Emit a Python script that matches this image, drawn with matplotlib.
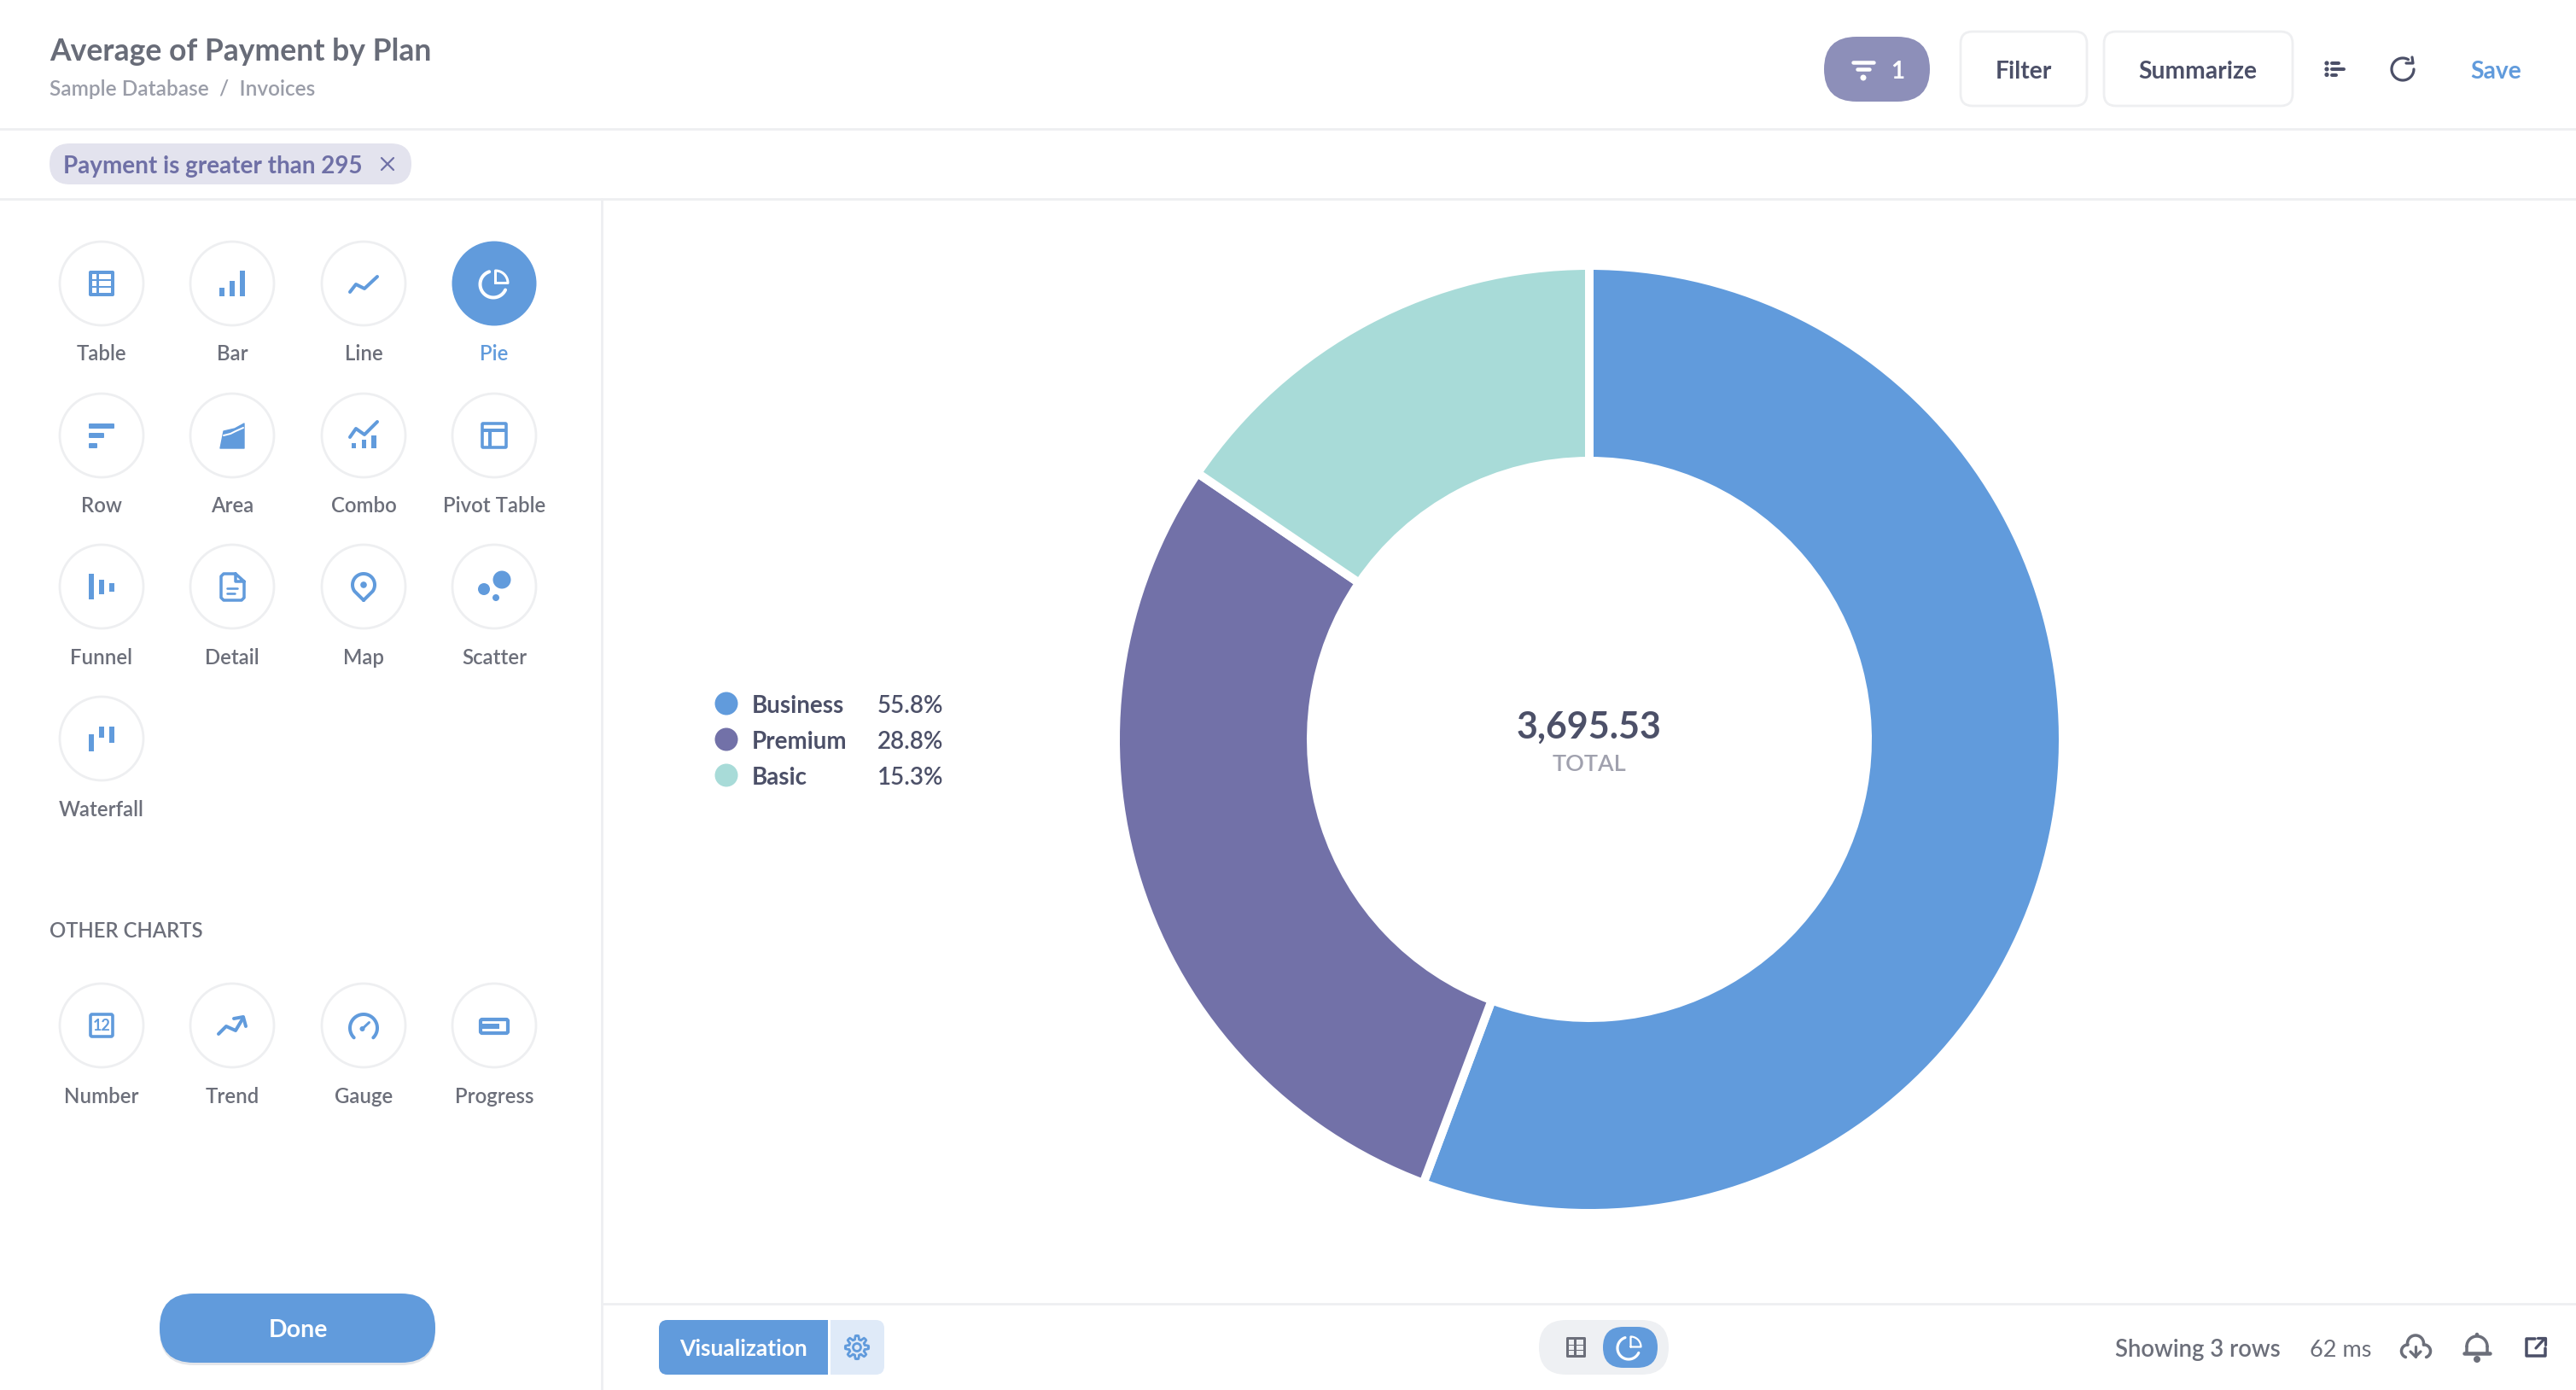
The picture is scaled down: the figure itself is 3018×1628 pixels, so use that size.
import numpy as np
import matplotlib
matplotlib.use('Agg')
import matplotlib.pyplot as plt
from matplotlib.patches import Circle, FancyBboxPatch, Polygon, Rectangle

plt.rcParams['font.family'] = ['Lato', 'DejaVu Sans']

# data
plans = ['Business', 'Premium', 'Basic']
slices = [55.7, 28.8, 15.5]  # as measured on the donut
share_labels = ['55.8%', '28.8%', '15.3%']
total_label = '3,695.53'
chart_types = ['Table', 'Bar', 'Line', 'Pie', 'Row', 'Area', 'Combo', 'Pivot Table',
               'Funnel', 'Detail', 'Map', 'Scatter', 'Waterfall']
other_types = ['Number', 'Trend', 'Gauge', 'Progress']

BLUE = '#619bdc'
PURPLE = '#7271a8'
TEAL = '#a8dbd8'
GREY = '#6c6f7a'
DARK = '#4c5068'
LINE = '#eeeff1'
pie_colors = [BLUE, PURPLE, TEAL]

W, H = 3018, 1628
fig = plt.figure(figsize=(W / 100, H / 100), dpi=100, facecolor='white')
ax = fig.add_axes([0, 0, 1, 1])
ax.set_xlim(0, W)
ax.set_ylim(H, 0)
ax.axis('off')


def box(x0, y0, x1, y1, r, fc, ec='none', lw=0, z=2):
    ax.add_patch(FancyBboxPatch((x0, y0), x1 - x0, y1 - y0, boxstyle=f'round,pad=0,rounding_size={r}',
                                fc=fc, ec=ec, lw=lw, zorder=z))


def rect(x0, y0, x1, y1, fc, z=4):
    ax.add_patch(Rectangle((x0, y0), x1 - x0, y1 - y0, fc=fc, ec='none', zorder=z))


def line(pts, c=BLUE, lw=4, z=4):
    pts = np.array(pts, dtype=float)
    ax.plot(pts[:, 0], pts[:, 1], color=c, lw=lw * 0.72, zorder=z, solid_capstyle='round', solid_joinstyle='round')


def arc_pts(cx, cy, r, a0, a1):
    t = np.radians(np.linspace(a0, a1, 60))
    return np.column_stack([cx + r * np.cos(t), cy - r * np.sin(t)])


def arc(cx, cy, r, a0, a1, c=BLUE, lw=4, z=4):
    line(arc_pts(cx, cy, r, a0, a1), c, lw, z)


def dot(cx, cy, r, c=BLUE, z=4):
    ax.add_patch(Circle((cx, cy), r, fc=c, ec='none', zorder=z))


def txt(x, y, s, size, c=GREY, weight='semibold', ha='left'):
    ax.text(x, y, s, fontsize=size, color=c, fontweight=weight, ha=ha, va='baseline', zorder=6)


def pie_glyph(x, y, r, lw, z=5):
    # open ring, with the quarter wedge pulled out to the upper right
    arc(x - 1, y + 1, r, 108, 335, 'white', lw, z)
    ax_, ay_ = x + 1.5, y - 0.5
    wedge = np.vstack([[(ax_, ay_)], arc_pts(ax_, ay_, r - 1, 0, 90), [(ax_, ay_)]])
    line(wedge, 'white', lw - 1, z)


# icons, all drawn around the circle centre
def icon_table(x, y):
    box(x - 15, y - 15, x + 15, y + 15, 2, BLUE, z=4)
    for a, b in [(-11, -5), (-3, 3), (5, 11)]:
        rect(x - 11, y + a, x - 6, y + b, 'white', 5)
        rect(x - 3, y + a, x + 11, y + b, 'white', 5)


def icon_bar(x, y):
    rect(x - 15, y + 5, x - 9, y + 15, BLUE)
    rect(x - 3, y - 3, x + 3, y + 15, BLUE)
    rect(x + 9, y - 15, x + 15, y + 15, BLUE)


def icon_line(x, y):
    line([(x - 16, y + 10), (x - 9, y + 1), (x + 1, y + 6), (x + 16, y - 8)])


def icon_pie(x, y):
    pie_glyph(x, y, 15.5, 4)


def icon_row(x, y):
    box(x - 15, y - 14, x + 15, y - 8, 1, BLUE, z=4)
    box(x - 15, y - 3, x + 3, y + 3, 1, BLUE, z=4)
    box(x - 15, y + 9, x - 5, y + 15, 1, BLUE, z=4)


def icon_area(x, y):
    ax.add_patch(Polygon([(x - 14, y + 15), (x - 10, y - 5), (x + 3, y - 8), (x + 14, y - 14), (x + 14, y + 15)],
                         fc=BLUE, ec=BLUE, lw=1, joinstyle='round', zorder=4))
    line([(x - 10, y), (x - 2, y - 2), (x + 4, y - 5), (x + 13, y - 9)], 'white', 2, 5)


def icon_combo(x, y):
    line([(x - 16, y + 2), (x - 9, y - 8), (x + 1, y - 1), (x + 16, y - 16)])
    rect(x - 14, y + 9, x - 9, y + 15, BLUE)
    rect(x - 2, y + 5, x + 3, y + 15, BLUE)
    rect(x + 9, y, x + 15, y + 15, BLUE)


def icon_pivot(x, y):
    box(x - 14, y - 14, x + 14, y + 14, 1, 'white', BLUE, 2.6, z=4)
    rect(x - 14, y - 8, x + 14, y - 4, BLUE, 5)
    rect(x - 7, y - 6, x - 3, y + 14, BLUE, 5)


def icon_funnel(x, y):
    rect(x - 15, y - 15, x - 9, y + 15, BLUE)
    rect(x - 3, y - 8, x + 3, y + 9, BLUE)
    rect(x + 9, y - 4, x + 15, y + 6, BLUE)


def icon_detail(x, y):
    line([(x + 4, y - 15), (x - 10, y - 15), (x - 13, y - 12), (x - 13, y + 13), (x - 10, y + 16), (x + 11, y + 16),
          (x + 14, y + 13), (x + 14, y - 6), (x + 4, y - 15), (x + 4, y - 6), (x + 14, y - 6)], lw=3.5)
    line([(x - 6, y + 2), (x + 6, y + 2)], lw=2.6)
    line([(x - 6, y + 8), (x + 3, y + 8)], lw=2.6)


def icon_map(x, y):
    t = np.radians(np.linspace(-35, 215, 60))
    pts = [(x, y + 16)] + [(x + 13 * np.cos(a), y - 2 - 13 * np.sin(a)) for a in t] + [(x, y + 16)]
    line(pts, lw=4)
    dot(x, y - 2, 3.8)


def icon_scatter(x, y):
    dot(x + 9, y - 8, 10.5)
    dot(x - 12, y + 3, 7)
    dot(x + 2, y + 13, 4)


def icon_waterfall(x, y):
    rect(x - 15, y - 5, x - 9, y + 15, BLUE)
    rect(x - 3, y - 14, x + 3, y - 1, BLUE)
    rect(x + 9, y - 14, x + 15, y + 5, BLUE)


def icon_number(x, y):
    box(x - 13, y - 13, x + 13, y + 13, 2, 'white', BLUE, 2.6, z=4)
    ax.text(x, y + 0.5, '12', fontsize=13, color=BLUE, fontweight='bold', ha='center', va='center', zorder=6)


def icon_trend(x, y):
    line([(x - 16, y + 10), (x - 7, y + 1), (x + 4, y + 6), (x + 13, y - 9)])
    line([(x + 2, y - 8), (x + 13, y - 10), (x + 16, y + 1)])


def icon_gauge(x, y):
    arc(x, y + 3, 16, -45, 225)
    line([(x - 1.5, y + 4), (x + 6.5, y - 3.5)], lw=3)
    dot(x - 1.5, y + 4, 3)


def icon_progress(x, y):
    box(x - 16, y - 7, x + 16, y + 9, 2, 'white', BLUE, 3, z=4)
    rect(x - 14, y - 2, x + 6, y + 4, BLUE, 5)


icons = [icon_table, icon_bar, icon_line, icon_pie, icon_row, icon_area, icon_combo, icon_pivot,
         icon_funnel, icon_detail, icon_map, icon_scatter, icon_waterfall]
other_icons = [icon_number, icon_trend, icon_gauge, icon_progress]

# separators
ax.plot([0, W], [151, 151], color=LINE, lw=2, zorder=1)
ax.plot([0, W], [233, 233], color=LINE, lw=2, zorder=1)
ax.plot([705, 705], [233, H], color=LINE, lw=2, zorder=1)
ax.plot([705, W], [1527, 1527], color=LINE, lw=2, zorder=1)

# header
txt(58, 71, 'Average of Payment by Plan', 25.6, '#686c78', 'bold')
txt(58, 112, 'Sample Database  /  Invoices', 17.6, '#9a9da8')

box(58, 168, 482, 216, 24, '#e3e3ee')
txt(74, 203, 'Payment is greater than 295', 20.1, '#6f70a6', 'bold')
line([(447, 185), (461, 199)], '#6f70a6', 2.2)
line([(447, 199), (461, 185)], '#6f70a6', 2.2)

box(2137, 43, 2261, 119, 38, '#8d8fb9', z=2)
for xa, xb, yy in [(2171, 2195, 73), (2176, 2190, 81)]:
    line([(xa, yy), (xb, yy)], 'white', 4.5)
dot(2183, 91, 3.5, 'white')
txt(2223, 92, '1', 20, 'white', 'bold', 'center')

box(2297, 37, 2445, 124, 14, 'white', LINE, 2)
box(2465, 37, 2686, 124, 14, 'white', LINE, 2)
txt(2371, 92, 'Filter', 20.3, DARK, 'bold', 'center')
txt(2575, 92, 'Summarize', 20.3, DARK, 'bold', 'center')

for yy, xe in [(74, 2741), (81, 2747), (87.5, 2738)]:
    dot(2726, yy, 2.6, DARK)
    line([(2732, yy), (xe - 1, yy)], DARK, 4)
arc(2815, 81, 13, 60, 360, DARK, 3.2)
line([(2826, 67), (2827, 74), (2819, 74)], DARK, 3.2)
txt(2924, 92, 'Save', 20.3, BLUE, 'bold', 'center')

# chart picker
grid_x = [119, 272, 426, 579]
grid_y = [332, 510, 687, 865]
label_y = [422, 600, 778, 956]
for i, (name, draw) in enumerate(zip(chart_types, icons)):
    cx, cy = grid_x[i % 4], grid_y[i // 4]
    on = name == 'Pie'
    if on:
        dot(cx, cy, 49.5, BLUE, 2)
    else:
        ax.add_patch(Circle((cx, cy), 49, fc='white', ec=LINE, lw=2, zorder=2))
    draw(cx, cy)
    txt(cx, label_y[i // 4], name, 17.3, BLUE if on else GREY, 'semibold', 'center')

txt(58, 1098, 'OTHER CHARTS', 17.2, GREY)
for i, (name, draw) in enumerate(zip(other_types, other_icons)):
    ax.add_patch(Circle((grid_x[i], 1201), 49, fc='white', ec=LINE, lw=2, zorder=2))
    draw(grid_x[i], 1201)
    txt(grid_x[i], 1292, name, 17.3, GREY, 'semibold', 'center')

box(187, 1518, 510, 1599, 40, '#e4e6ea', z=1)
box(187, 1515, 510, 1596, 40, BLUE)
txt(349, 1566, 'Done', 20.5, 'white', 'bold', 'center')

# legend
for i, (plan, lab, col) in enumerate(zip(plans, share_labels, pie_colors)):
    yy = 824 + 42 * i
    dot(851, yy, 13.5, col)
    txt(881, yy + 11, plan, 20, DARK, 'bold')
    txt(1105, yy + 11, lab, 20, DARK, 'semibold', 'right')

# donut
cx, cy, r_out, r_in = 1862, 866, 555, 326
pie_ax = fig.add_axes([(cx - r_out) / W, 1 - (cy + r_out) / H, 2 * r_out / W, 2 * r_out / H])
pie_ax.pie(slices, colors=pie_colors, startangle=90, counterclock=False, radius=1,
           wedgeprops=dict(width=(r_out - r_in) / r_out, edgecolor='white', linewidth=7.2))
pie_ax.set_xlim(-1, 1)
pie_ax.set_ylim(-1, 1)

txt(cx, 865, total_label, 31, DARK, 'bold', 'center')
txt(cx, 903, 'TOTAL', 19.5, '#a0a1ae', 'semibold', 'center')

# footer
box(772, 1546, 1036, 1610, 10, '#dfeaf8')
box(772, 1546, 970, 1610, 10, BLUE, z=3)
rect(950, 1546, 970, 1610, BLUE, 3)
rect(970, 1546, 973, 1610, 'white', 3)
txt(871, 1588, 'Visualization', 19, 'white', 'bold', 'center')

t = np.radians(np.linspace(0, 360, 97))
rad = 11.5 + 2.2 * np.tanh(3 * np.cos(8 * t))
ax.fill(1004 + rad * np.cos(t), 1578 + rad * np.sin(t), fc='none', ec=BLUE, lw=2, zorder=4)
ax.add_patch(Circle((1004, 1578), 4.5, fc='none', ec=BLUE, lw=2, zorder=4))

box(1803, 1546, 1955, 1610, 32, '#eef0f3')
box(1878, 1554, 1942, 1602, 24, BLUE, z=3)
box(1835, 1566, 1858, 1590, 1.5, GREY, z=4)
for a, b in [(-9, -3), (-2, 3), (4, 9)]:
    rect(1838, 1578 + a, 1844, 1578 + b, '#eef0f3', 5)
    rect(1847, 1578 + a, 1855, 1578 + b, '#eef0f3', 5)
pie_glyph(1909, 1578, 13, 3.2)

txt(2478, 1589, 'Showing 3 rows', 19.8, GREY)
txt(2706, 1589, '62 ms', 19.5, GREY, 'regular')

# cloud download
arc(2830, 1573.5, 9.5, -10, 190, GREY, 3.5)
arc(2821, 1582.5, 7.5, 90, 250, GREY, 3.5)
arc(2840, 1582.5, 7.5, 90, -70, GREY, 3.5)
line([(2830, 1577), (2830, 1589)], GREY, 3.2)
line([(2824, 1583), (2830, 1589), (2836, 1583)], GREY, 3.2)

# bell
arc(2902, 1577, 12, 0, 180, GREY, 3.5)
line([(2890, 1577), (2890, 1585)], GREY, 3.5)
line([(2914, 1577), (2914, 1585)], GREY, 3.5)
line([(2887, 1585), (2917, 1585)], GREY, 4.5)
dot(2902, 1563, 2.2, GREY)
dot(2902, 1592, 4, GREY)

# open in new
line([(2970, 1568), (2960, 1568), (2960, 1588), (2982, 1588), (2982, 1579)], DARK, 3.5)
line([(2971, 1579), (2981, 1568)], DARK, 3.2)
line([(2973, 1567), (2982, 1567), (2982, 1575)], DARK, 3.2)

fig.savefig('out.png', dpi=100, facecolor='white')
